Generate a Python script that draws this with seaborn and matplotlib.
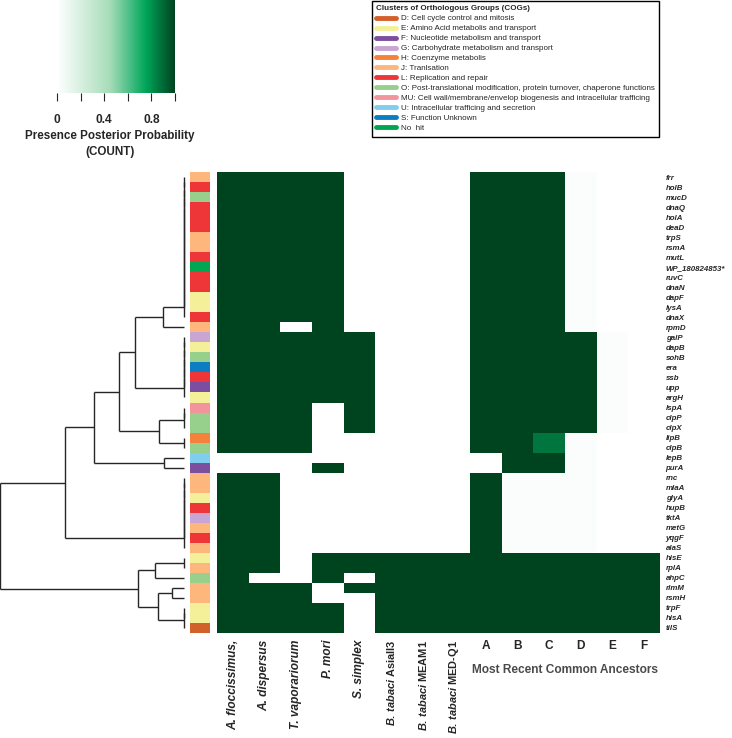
import numpy as np
import pandas as pd
import matplotlib
matplotlib.use("Agg")
import matplotlib.pyplot as plt
from matplotlib.colors import LinearSegmentedColormap, ListedColormap
from matplotlib.lines import Line2D
import seaborn as sns

# Genes (rows, top to bottom) and their COG category
genes = ["frr", "holB", "mucD", "dnaQ", "holA", "deaD", "trpS", "rsmA", "mutL", "WP_180824853*",
         "ruvC", "dnaN", "dapF", "lysA", "dnaX", "rpmD", "galP", "dapB", "sohB", "era",
         "ssb", "upp", "argH", "lspA", "clpP", "clpX", "lipB", "clpB", "lepB", "purA",
         "rnc", "mlaA", "glyA", "hupB", "tktA", "metG", "yqgF", "alaS", "hisE", "rplA",
         "ahpC", "rlmM", "rsmH", "trpF", "hisA", "tilS"]
cog = ["J", "L", "O", "L", "L", "L", "J", "J", "L", "No hit",
       "L", "L", "E", "E", "L", "J", "G", "E", "O", "S",
       "L", "F", "E", "MU", "O", "O", "H", "O", "U", "F",
       "J", "J", "E", "L", "G", "J", "L", "J", "E", "J",
       "O", "J", "J", "E", "E", "D"]

species = ["A. floccissimus,", "A. dispersus", "T. vaporariorum", "P. mori", "S. simplex",
           r"$\mathit{B.\,tabaci}$ AsiaII3", r"$\mathit{B.\,tabaci}$ MEAM1", r"$\mathit{B.\,tabaci}$ MED-Q1"]
ancestors = ["A", "B", "C", "D", "E", "F"]

# Presence posterior probability per column (46 rows each, run-length written)
a_flocc = [1]*28 + [0]*2 + [1]*16
a_disp = [1]*28 + [0]*2 + [1]*10 + [0] + [1]*5
t_vap = [1]*15 + [0] + [1]*12 + [0]*2 + [0]*11 + [1]*5
p_mori = [1]*23 + [0]*5 + [0] + [1] + [0]*8 + [1]*3 + [0]*2 + [1]*3
s_simplex = [0]*16 + [1]*10 + [0]*12 + [1]*2 + [0] + [1] + [0]*4
b_asia = [0]*38 + [1]*8
b_meam = [0]*38 + [1]*8
b_med = [0]*38 + [1]*8
anc_a = [1]*28 + [0]*2 + [1]*16
anc_b = [1]*30 + [0.02]*8 + [1]*8
anc_c = [1]*26 + [0.87]*2 + [1]*2 + [0.02]*8 + [1]*8
anc_d = [0.03]*16 + [1]*10 + [0.03]*4 + [0.02]*8 + [1]*8
anc_e = [0]*16 + [0.02]*10 + [0]*12 + [1]*8
anc_f = [0]*38 + [1]*8

# Row dendrogram: groups of identical rows, merged at the given heights
grp_a = list(range(0, 15))
grp_b = list(range(16, 23))
grp_c = [23, 24, 25]
grp_d = [26, 27]
grp_e = list(range(30, 38))
grp_f = [38, 39]
grp_g = [43, 44, 45]
tree = (((((grp_a, [15], 21), grp_b, 49), (grp_c, grp_d, 25), 65), ([28], [29], 20), 90), grp_e, 118), \
       (((grp_f, [40], 29), (([41], [42], 12), grp_g, 26), 46)), 183

cog_names = ["D", "E", "F", "G", "H", "J", "L", "O", "MU", "U", "S", "No hit"]
cog_colors = ["#d2602b", "#f4f09a", "#7b4ea0", "#c8a5d3", "#f5823a", "#fdb67c",
              "#ee3538", "#97cf8d", "#f3939c", "#80cded", "#0b7ec3", "#00a651"]
cog_labels = ["D: Cell cycle control and mitosis",
              "E: Amino Acid metabolis and transport",
              "F: Nucleotide metabolism and transport",
              "G: Carbohydrate metabolism and transport",
              "H: Coenzyme metabolis",
              "J: Tranlsation",
              "L: Replication and repair",
              "O: Post-translational modification, protein turnover, chaperone functions",
              "MU: Cell wall/membrane/envelop biogenesis and intracellular trafficing",
              "U: Intracellular trafficing and secretion",
              "S: Function Unknown",
              "No  hit"]

sns.set_style("white")
plt.rcParams["font.family"] = ["Liberation Sans", "DejaVu Sans"]
plt.rcParams["mathtext.fontset"] = "custom"
plt.rcParams["mathtext.it"] = "Liberation Sans:italic:bold"
plt.rcParams["mathtext.rm"] = "Liberation Sans:bold"

cols = species + ancestors
df = pd.DataFrame(np.array([a_flocc, a_disp, t_vap, p_mori, s_simplex, b_asia, b_meam, b_med,
                            anc_a, anc_b, anc_c, anc_d, anc_e, anc_f]).T, index=genes, columns=cols)

W, H = 732, 738
fig = plt.figure(figsize=(W / 100, H / 100), dpi=100)


def box(x0, y0, x1, y1):
    return [x0 / W, 1 - y1 / H, (x1 - x0) / W, (y1 - y0) / H]


cmap = LinearSegmentedColormap.from_list(
    "presence", [(0, "#ffffff"), (0.45, "#a6dcb8"), (0.75, "#00a65a"), (1, "#00431f")])

# main heatmap
ax = fig.add_axes(box(217, 172, 660, 633))
sns.heatmap(df, cmap=cmap, vmin=0, vmax=1, cbar=False, ax=ax, xticklabels=True, yticklabels=True)
ax.yaxis.tick_right()
ax.tick_params(axis="both", length=0)
ax.tick_params(axis="y", pad=4)
ax.tick_params(axis="x", pad=5)
ax.set_yticklabels(genes, rotation=0, fontsize=5.7, fontweight="bold", fontstyle="italic")
ax.set_xticklabels(cols, fontsize=8.6, fontweight="bold")
for i, lab in enumerate(ax.get_xticklabels()):
    if i < len(species):
        lab.set_rotation(90)
        lab.set_va("top")
        if i < 5:
            lab.set_fontstyle("italic")
        else:
            lab.set_fontsize(7.9)
    else:
        lab.set_rotation(0)
        lab.set_fontsize(8.6)
ax.set_xlabel("")
ax.set_ylabel("")
ax.text(11.0, 46 + 3.1, "Most Recent Common Ancestors",
        ha="center", va="top", fontsize=8.6, fontweight="bold", color="#4a4a4a")

# COG strip
sax = fig.add_axes(box(190, 172, 210, 633))
codes = np.array([[cog_names.index(c)] for c in cog])
sns.heatmap(codes, cmap=ListedColormap(cog_colors), vmin=-0.5, vmax=len(cog_names) - 0.5,
            cbar=False, ax=sax, xticklabels=False, yticklabels=False)

# dendrogram
dax = fig.add_axes(box(0, 172, 184, 633))
segs = []


def draw(node):
    if isinstance(node, list):
        y = node[0] + 0.5
        for leaf in node[1:]:
            segs.append(([0, 0], [y, leaf + 0.5]))
            y = (y + leaf + 0.5) / 2
        return y, 0
    left, right, h = node
    yl, hl = draw(left)
    yr, hr = draw(right)
    segs.append(([hl, h], [yl, yl]))
    segs.append(([hr, h], [yr, yr]))
    segs.append(([h, h], [yl, yr]))
    return (yl + yr) / 2, h


draw(tree)
for xs, ys in segs:
    dax.plot(xs, ys, color="#262626", lw=1.0, clip_on=False, solid_capstyle="butt")
dax.set_xlim(tree[2], 0)
dax.set_ylim(len(genes), 0)
dax.axis("off")

# colour bar
cax = fig.add_axes(box(57, 0, 175, 93))
cb = fig.colorbar(ax.collections[0], cax=cax, orientation="horizontal")
cb.outline.set_visible(False)
cb.set_ticks([0, 0.2, 0.4, 0.6, 0.8, 1.0])
cb.set_ticklabels(["0", "", "0.4", "", "0.8", ""])
cax.tick_params(length=6, width=0.8, labelsize=8.6, pad=9)
for t in cax.get_xticklabels():
    t.set_fontweight("bold")
fig.text(110 / W, 1 - 136 / H, "Presence Posterior Probability", ha="center", va="center",
         fontsize=8.4, fontweight="bold")
fig.text(110 / W, 1 - 152 / H, "(COUNT)", ha="center", va="center", fontsize=8.4, fontweight="bold")

# COG legend
handles = [Line2D([0], [0], color=c, lw=3.5, solid_capstyle="round") for c in cog_colors]
leg = fig.legend(handles, cog_labels, loc="upper left", bbox_to_anchor=(372 / W, 1 - 1 / H),
                 borderaxespad=0, frameon=True, fancybox=False, framealpha=1, edgecolor="black",
                 fontsize=5.8, title="Clusters of Orthologous Groups (COGs)",
                 title_fontproperties={"weight": "bold", "size": 5.8}, alignment="left",
                 handlelength=2.4, handletextpad=0.6, labelspacing=0.29, borderpad=0.55)
leg.get_frame().set_linewidth(1.0)

fig.savefig("out.png", dpi=100)
